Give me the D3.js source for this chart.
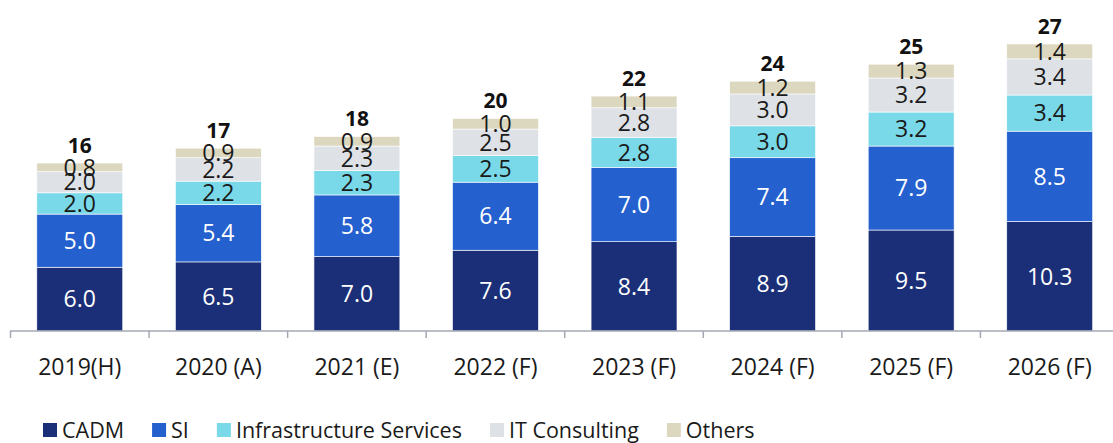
<!DOCTYPE html>
<html>
<head>
<meta charset="utf-8">
<script src="https://cdn.jsdelivr.net/npm/d3@7"></script>
<style>
  body { margin: 0; background: #fff; }
  text { font-family: "Open Sans", "Liberation Sans", sans-serif; }
</style>
</head>
<body>
<div id="canvas-wrapper"></div>
<script>
var years = ["2019(H)", "2020 (A)", "2021 (E)", "2022 (F)", "2023 (F)", "2024 (F)", "2025 (F)", "2026 (F)"];
var seriesNames = ["CADM", "SI", "Infrastructure Services", "IT Consulting", "Others"];
var cadm   = [6.0, 6.5, 7.0, 7.6, 8.4, 8.9, 9.5, 10.3];
var si     = [5.0, 5.4, 5.8, 6.4, 7.0, 7.4, 7.9, 8.5];
var infra  = [2.0, 2.2, 2.3, 2.5, 2.8, 3.0, 3.2, 3.4];
var itCons = [2.0, 2.2, 2.3, 2.5, 2.8, 3.0, 3.2, 3.4];
var others = [0.8, 0.9, 0.9, 1.0, 1.1, 1.2, 1.3, 1.4];
var totals = [16, 17, 18, 20, 22, 24, 25, 27];
var colors = ["#1b2f78", "#2560cf", "#79d9e8", "#dee2e7", "#dcd7bf"];
var labelColors = ["#fff", "#fff", "#1a1a1a", "#1a1a1a", "#1a1a1a"];

var width = 1113, height = 443;
var baseY = 331;

var rows = years.map(function(y, i) {
  return { year: y, CADM: cadm[i], SI: si[i], "Infrastructure Services": infra[i],
           "IT Consulting": itCons[i], Others: others[i], total: totals[i] };
});

var stack = d3.stack().keys(seriesNames)(rows);

var svg = d3.select("#canvas-wrapper").append("svg")
    .attr("width", width)
    .attr("height", height);

var x = d3.scaleBand().domain(years).range([10.5, 1119]).paddingInner(0.38).paddingOuter(0.19);
var y = d3.scaleLinear().domain([0, 27]).range([baseY, 44]);

// bars
var layer = svg.selectAll("g.layer")
  .data(stack)
  .enter().append("g")
    .attr("class", "layer")
    .attr("fill", function(d, i) { return colors[i]; });

layer.selectAll("rect")
  .data(function(d) { return d; })
  .enter().append("rect")
    .attr("x", function(d) { return x(d.data.year); })
    .attr("width", x.bandwidth())
    .attr("y", function(d) { return y(d[1]); })
    .attr("height", function(d) { return y(d[0]) - y(d[1]); })
    .attr("stroke", "#fff")
    .attr("stroke-width", 0.6);

// segment labels
stack.forEach(function(s, k) {
  svg.append("g").selectAll("text")
    .data(s)
    .enter().append("text")
      .attr("x", function(d) { return x(d.data.year) + x.bandwidth() / 2; })
      .attr("y", function(d) { return (y(d[0]) + y(d[1])) / 2; })
      .attr("dy", "0.36em")
      .attr("text-anchor", "middle")
      .attr("font-size", 23)
      .attr("fill", labelColors[k])
      .text(function(d) { return (d[1] - d[0]).toFixed(1); });
});

// totals
svg.append("g").selectAll("text")
  .data(rows)
  .enter().append("text")
    .attr("x", function(d) { return x(d.year) + x.bandwidth() / 2; })
    .attr("y", function(d) { return y(d.CADM + d.SI + d["Infrastructure Services"] + d["IT Consulting"] + d.Others) - 10; })
    .attr("text-anchor", "middle")
    .attr("font-size", 21)
    .attr("font-weight", "bold")
    .attr("fill", "#111")
    .text(function(d) { return d.total; });

// x axis
var axis = svg.append("g")
    .attr("transform", "translate(0," + baseY + ")");
axis.append("line")
    .attr("x1", 10).attr("x2", width)
    .attr("stroke", "#a3a9b4").attr("stroke-width", 1.5);
var step = x.step();
axis.selectAll("line.tick")
  .data(d3.range(years.length + 1))
  .enter().append("line")
    .attr("class", "tick")
    .attr("x1", function(i) { return 10.5 + i * step; })
    .attr("x2", function(i) { return 10.5 + i * step; })
    .attr("y1", 0).attr("y2", 7)
    .attr("stroke", "#a3a9b4").attr("stroke-width", 1.5);
axis.selectAll("text")
  .data(years)
  .enter().append("text")
    .attr("x", function(d) { return x(d) + x.bandwidth() / 2; })
    .attr("y", 36)
    .attr("dy", "0.36em")
    .attr("text-anchor", "middle")
    .attr("font-size", 23)
    .attr("fill", "#1a1a1a")
    .text(function(d) { return d; });

// legend
var legend = svg.append("g").attr("transform", "translate(43,430)");
var lx = 0;
seriesNames.forEach(function(name, i) {
  var g = legend.append("g").attr("transform", "translate(" + lx + ",0)");
  g.append("rect").attr("x", 0).attr("y", -7).attr("width", 14).attr("height", 14).attr("fill", colors[i]);
  var t = g.append("text")
      .attr("x", 19).attr("dy", "0.36em")
      .attr("font-size", 21.5).attr("fill", "#1a1a1a")
      .text(name);
  lx += 19 + t.node().getComputedTextLength() + 28;
});
</script>
</body>
</html>
